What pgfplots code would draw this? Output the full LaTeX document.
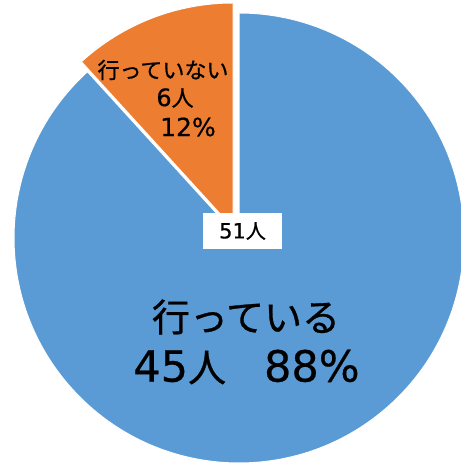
\documentclass[border=0pt]{standalone}
\usepackage{pgfplots}
\pgfplotsset{compat=1.18}
\usepackage{pgfplotstable}
\usepackage{fontspec}
\newfontfamily\jp[FakeBold=0.8]{Noto Sans CJK JP}
\newfontfamily\lat[FakeBold=0.5]{DejaVu Sans}
\definecolor{pieblue}{HTML}{5B9BD5}
\definecolor{pieorange}{HTML}{ED7D31}
\pgfplotstableread{
group value
yes 45
no 6
}\piedata
\begin{document}
\begin{tikzpicture}
\pgfplotstablegetelem{0}{value}\of\piedata \let\va\pgfplotsretval
\pgfplotstablegetelem{1}{value}\of\piedata \let\vb\pgfplotsretval
\pgfmathsetmacro{\total}{\va+\vb}
\pgfmathsetmacro{\angb}{90+360*\vb/\total}
\begin{axis}[
  x=1bp, y=1bp, xmin=0, xmax=461, ymin=0, ymax=467,
  hide axis, clip=false, scale only axis,
]
\coordinate (bl) at (axis cs:0,0);
\coordinate (tr) at (axis cs:461,467);
% blue slice (45)
\fill[pieblue, draw=white, line width=1bp]
  (axis cs:239,229) -- ++(\angb:225bp) arc[start angle=\angb, end angle=450, radius=225bp] -- cycle;
% orange slice (6), exploded
\fill[pieorange, draw=white, line width=1bp]
  (axis cs:233,239) -- ++(90:225bp) arc[start angle=90, end angle=\angb, radius=225bp] -- cycle;
% total label
\node[fill=white, minimum width=79bp, minimum height=36bp, inner sep=0pt, font=\jp\fontsize{20bp}{24bp}\selectfont]
  at (axis cs:242.5,236) {{\lat\fontsize{21bp}{24bp}\selectfont 51}人};
% orange labels
\node[font=\jp\fontsize{22bp}{26bp}\selectfont] at (axis cs:163,397) {行っていない};
\node[font=\jp\fontsize{22bp}{26bp}\selectfont] at (axis cs:175,369) {{\lat\fontsize{24bp}{26bp}\selectfont 6}人};
\node[font=\lat\fontsize{25bp}{28bp}\selectfont] at (axis cs:188,340) {12\%};
% blue labels
\node[font=\jp\fontsize{38bp}{44bp}\selectfont] at (axis cs:246,150) {行っている};
\node[font=\jp\fontsize{38bp}{44bp}\selectfont] at (axis cs:246.5,100) {{\lat\fontsize{43bp}{48bp}\selectfont 45}人　{\lat\fontsize{43bp}{48bp}\selectfont 88\%}};
\end{axis}
\pgfresetboundingbox
\path (bl) rectangle (tr);
\end{tikzpicture}
\end{document}
